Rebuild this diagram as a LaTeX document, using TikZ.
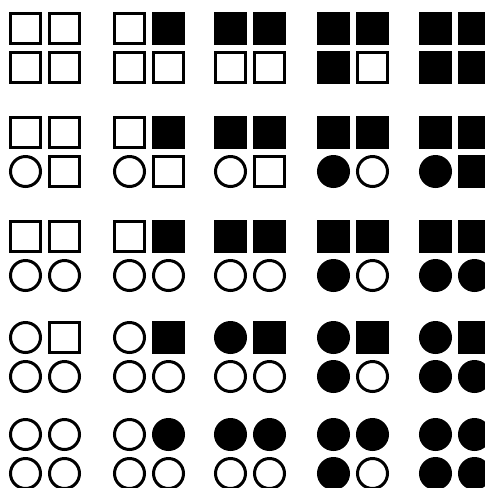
\documentclass[tikz,border=0pt]{standalone}
\usepackage{tikz}

\begin{document}
\begin{tikzpicture}[x=0.02cm, y=-0.02cm,
    cellbox/.style={minimum size=0.6cm, inner sep=0pt, line width=0.06cm, draw=black},
    sq/.style={cellbox, rectangle, fill=white},
    sqf/.style={cellbox, rectangle, fill=black},
    ci/.style={cellbox, circle, fill=white},
    cif/.style={cellbox, circle, fill=black}]
    \useasboundingbox (0,0) rectangle (485,488);
    \clip (0,0) rectangle (485,488);
    % one row of glyphs per line (top edge / cells as TL-TR-BL-BR)
    \foreach \gy/\row [count=\r from 0] in {
        12/{sq/sq/sq/sq, sq/sqf/sq/sq, sqf/sqf/sq/sq, sqf/sqf/sqf/sq, sqf/sqf/sqf/sqf},
        116/{sq/sq/ci/sq, sq/sqf/ci/sq, sqf/sqf/ci/sq, sqf/sqf/cif/ci, sqf/sqf/cif/sqf},
        220/{sq/sq/ci/ci, sq/sqf/ci/ci, sqf/sqf/ci/ci, sqf/sqf/cif/ci, sqf/sqf/cif/cif},
        321/{ci/sq/ci/ci, ci/sqf/ci/ci, cif/sqf/ci/ci, cif/sqf/cif/ci, cif/sqf/cif/cif},
        418/{ci/ci/ci/ci, ci/cif/ci/ci, cif/cif/ci/ci, cif/cif/cif/ci, cif/cif/cif/cif}} {
      \foreach \a/\b/\d/\e [count=\c from 0] in \row {
        \pgfmathsetmacro{\gx}{{9,113,214,317,419}[\c]}
        \node[\a] (g\r\c-tl) at ({\gx+16.5},{\gy+16.5}) {};
        \node[\b] (g\r\c-tr) at ({\gx+55.5},{\gy+16.5}) {};
        \node[\d] (g\r\c-bl) at ({\gx+16.5},{\gy+55.5}) {};
        \node[\e] (g\r\c-br) at ({\gx+55.5},{\gy+55.5}) {};
      }
    }
  \end{tikzpicture}
\end{document}
